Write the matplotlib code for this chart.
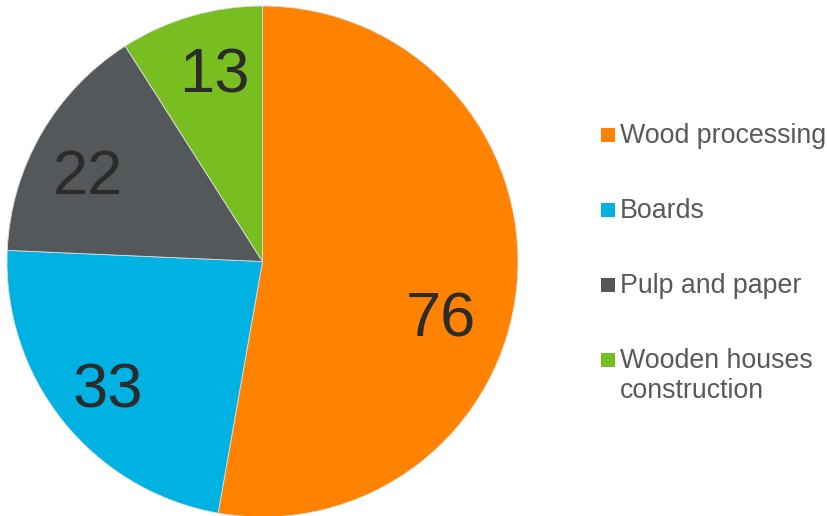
import matplotlib
matplotlib.use("Agg")
import matplotlib.pyplot as plt
import numpy as np
from matplotlib.patches import Rectangle

categories = ["Wood processing", "Boards", "Pulp and paper", "Wooden houses\nconstruction"]
values = [76, 33, 22, 13]
colors = ["#FF8200", "#00B2E2", "#54585B", "#78BE21"]

plt.rcParams['font.family'] = ['Liberation Sans', 'DejaVu Sans']

W, H = 828, 516
fig = plt.figure(figsize=(W / 100, H / 100), dpi=100)
cx, cy, r = 262.5, 261.5, 255.5
ax = fig.add_axes([(cx - r) / W, (H - cy - r) / H, 2 * r / W, 2 * r / H])

wedges, texts = ax.pie(values, colors=colors, startangle=90, counterclock=False,
                       labels=[str(v) for v in values], labeldistance=0.77,
                       wedgeprops=dict(linewidth=0.6, edgecolor="#dddddd"),
                       textprops=dict(fontsize=45.5, color="#2b2b2b"))
# label placement (angle in degrees, radius fraction), Excel-like best fit
label_pos = [(-16.5, 0.729), (-141.45, 0.776), (152.85, 0.768), (104.2, 0.773)]
cap_half = 22.5 / r
for t, (a, d) in zip(texts, label_pos):
    a = np.deg2rad(a)
    t.set_position((d * np.cos(a), d * np.sin(a) - cap_half))
    t.set_ha("center")
    t.set_va("baseline")
ax.set_xlim(-1, 1)
ax.set_ylim(-1, 1)
ax.set_aspect("equal")
ax.axis("off")

# legend drawn manually (marker aligned with the first line, like the reference)
base0, step, line_step = 143, 75, 29.5
for i, (cat, col) in enumerate(zip(categories, colors)):
    by = base0 + step * i
    fig.add_artist(Rectangle((601 / W, 1 - (by - 1) / H), 14 / W, 14 / H,
                             transform=fig.transFigure, facecolor=col, edgecolor="none"))
    for j, line in enumerate(cat.split("\n")):
        fig.text(620 / W, 1 - (by + line_step * j) / H, line, fontsize=19.3,
                 color="#595959", ha="left", va="baseline")

fig.savefig("out.png", dpi=100)
